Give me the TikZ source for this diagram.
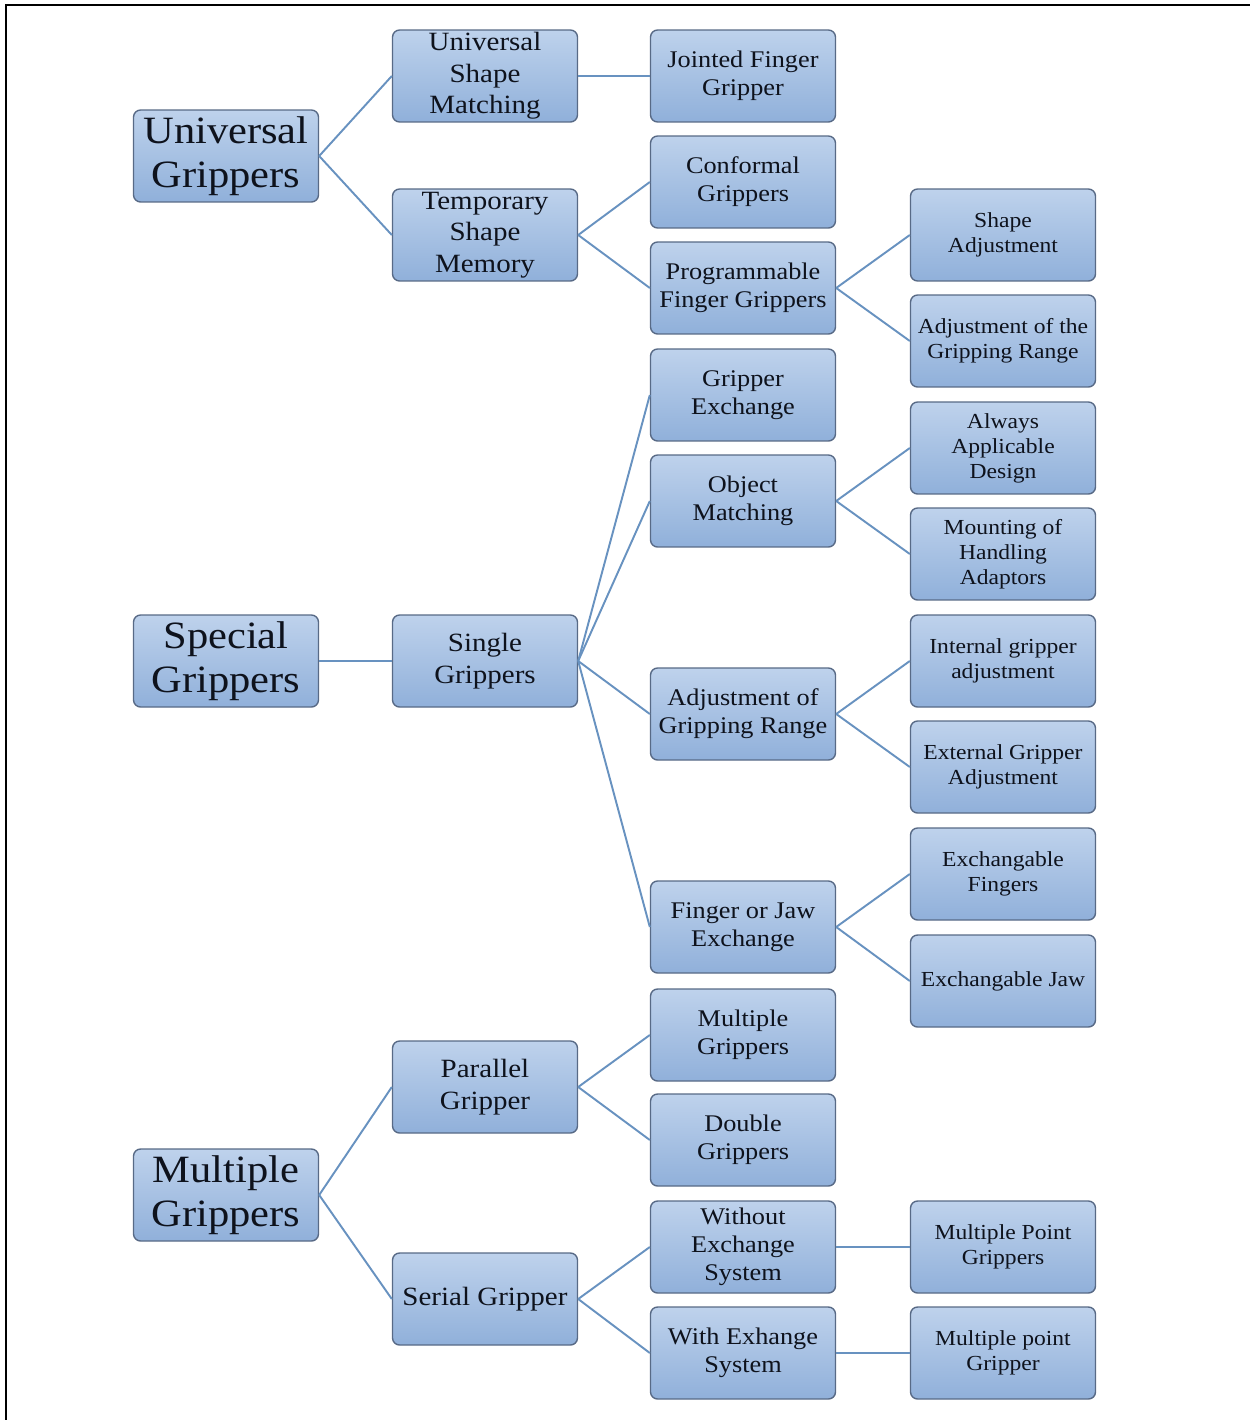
\documentclass[tikz,border=0pt]{standalone}
\usepackage{fontspec}
\setmainfont{Liberation Serif}[FakeStretch=1.1]
\usepackage{tikz}
\usetikzlibrary{positioning}
\definecolor{gtop}{RGB}{190,210,236}
\definecolor{gbot}{RGB}{144,176,218}
\definecolor{gedge}{RGB}{88,106,134}
\definecolor{glink}{RGB}{104,146,192}
\definecolor{gtext}{RGB}{14,18,28}

\begin{document}
\begin{tikzpicture}[x=0.02cm, y=-0.02cm,
    gbox/.style={draw=gedge, line width=0.8pt, top color=gtop, bottom color=gbot, rounded corners=4pt,
                 minimum width=3.7cm, minimum height=1.84cm, inner sep=1pt, align=center, text=gtext},
    lvlA/.style={gbox, font=\fontsize{22}{25}\selectfont},
    lvlB/.style={gbox, font=\fontsize{15}{18}\selectfont},
    lvlC/.style={gbox, font=\fontsize{13.6}{15.9}\selectfont},
    lvlD/.style={gbox, font=\fontsize{12.2}{14.2}\selectfont},
    link/.style={draw=glink, line width=1.1pt}]
  \useasboundingbox (0,0) rectangle (1250,1420);
  \draw[line width=1.6pt] (6,1420) -- (6,5) -- (1250,5);

  % first level
  \node[lvlA] (ug) at (226,156) {Universal\\Grippers};
  \node[lvlA] (sg) at (226,661) {Special\\Grippers};
  \node[lvlA] (mg) at (226,1195) {Multiple\\Grippers};

  % second level
  \node[lvlB] (usm) at (485,76) {Universal\\Shape\\Matching};
  \node[lvlB] (tsm) at (485,235) {Temporary\\Shape\\Memory};
  \node[lvlB] (single) at (485,661) {Single\\Grippers};
  \node[lvlB] (par) at (485,1087) {Parallel\\Gripper};
  \node[lvlB] (ser) at (485,1299) {Serial Gripper};

  % third level
  \node[lvlC] (jfg) at (743,76) {Jointed Finger\\Gripper};
  \node[lvlC] (conf) at (743,182) {Conformal\\Grippers};
  \node[lvlC] (prog) at (743,288) {Programmable\\Finger Grippers};
  \node[lvlC] (gex) at (743,395) {Gripper\\Exchange};
  \node[lvlC] (objm) at (743,501) {Object\\Matching};
  \node[lvlC] (adjr) at (743,714) {Adjustment of\\Gripping Range};
  \node[lvlC] (fje) at (743,927) {Finger or Jaw\\Exchange};
  \node[lvlC] (multg) at (743,1035) {Multiple\\Grippers};
  \node[lvlC] (dblg) at (743,1140) {Double\\Grippers};
  \node[lvlC] (woex) at (743,1247) {Without\\Exchange\\System};
  \node[lvlC] (wex) at (743,1353) {With Exhange\\System};

  % fourth level
  \node[lvlD] (shadj) at (1003,235) {Shape\\Adjustment};
  \node[lvlD] (adjgr) at (1003,341) {Adjustment of the\\Gripping Range};
  \node[lvlD] (aad) at (1003,448) {Always\\Applicable\\Design};
  \node[lvlD] (mha) at (1003,554) {Mounting of\\Handling\\Adaptors};
  \node[lvlD] (intg) at (1003,661) {Internal gripper\\adjustment};
  \node[lvlD] (extg) at (1003,767) {External Gripper\\Adjustment};
  \node[lvlD] (exf) at (1003,874) {Exchangable\\Fingers};
  \node[lvlD] (exj) at (1003,981) {Exchangable Jaw};
  \node[lvlD] (mpg1) at (1003,1247) {Multiple Point\\Grippers};
  \node[lvlD] (mpg2) at (1003,1353) {Multiple point\\Gripper};

  % links
  \draw[link] (ug.east) -- (usm.west);
  \draw[link] (ug.east) -- (tsm.west);
  \draw[link] (sg.east) -- (single.west);
  \draw[link] (mg.east) -- (par.west);
  \draw[link] (mg.east) -- (ser.west);
  \draw[link] (usm.east) -- (jfg.west);
  \draw[link] (tsm.east) -- (conf.west);
  \draw[link] (tsm.east) -- (prog.west);
  \draw[link] (prog.east) -- (shadj.west);
  \draw[link] (prog.east) -- (adjgr.west);
  \draw[link] (single.east) -- (gex.west);
  \draw[link] (single.east) -- (objm.west);
  \draw[link] (single.east) -- (adjr.west);
  \draw[link] (single.east) -- (fje.west);
  \draw[link] (objm.east) -- (aad.west);
  \draw[link] (objm.east) -- (mha.west);
  \draw[link] (adjr.east) -- (intg.west);
  \draw[link] (adjr.east) -- (extg.west);
  \draw[link] (fje.east) -- (exf.west);
  \draw[link] (fje.east) -- (exj.west);
  \draw[link] (par.east) -- (multg.west);
  \draw[link] (par.east) -- (dblg.west);
  \draw[link] (ser.east) -- (woex.west);
  \draw[link] (ser.east) -- (wex.west);
  \draw[link] (woex.east) -- (mpg1.west);
  \draw[link] (wex.east) -- (mpg2.west);
\end{tikzpicture}
\end{document}
